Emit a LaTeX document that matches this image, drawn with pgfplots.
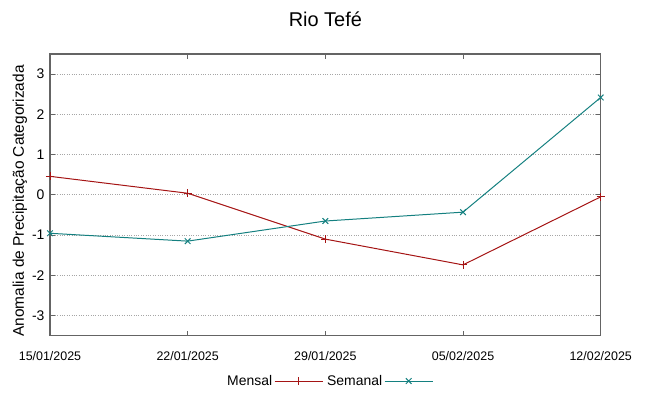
\documentclass[border=0pt]{standalone}
\usepackage{pgfplots}
\pgfplotsset{compat=1.18}
\usepackage{fontspec}
\setmainfont{Liberation Sans}
\definecolor{mred}{RGB}{165,20,20}
\definecolor{steal}{RGB}{20,128,128}
\definecolor{axgray}{RGB}{100,100,100}
\begin{document}
\begin{tikzpicture}[x=1bp,y=1bp]
\begin{axis}[
  at={(0,0)}, anchor=south west,
  scale only axis,
  width=550.7bp, height=281.7bp,
  xmin=0, xmax=4, ymin=-3.5, ymax=3.5,
  xtick={0,1,2,3,4},
  xticklabels={15/01/2025,22/01/2025,29/01/2025,05/02/2025,12/02/2025},
  ytick={-3,-2,-1,0,1,2,3},
  tick align=inside,
  major tick length=5bp,
  tick style={axgray, line width=1pt},
  axis line style={axgray, line width=1.4pt},
  ymajorgrids,
  grid style={gray!70, dotted, line width=0.8pt},
  /pgf/number format/assume math mode=true,
  yticklabel style={font=\fontsize{14}{16}\selectfont, xshift=-2bp},
  xticklabel style={font=\fontsize{12.5}{14}\selectfont, yshift=-12bp},
  title={Rio Tefé},
  title style={font=\fontsize{20}{22}\selectfont, yshift=18bp},
  ylabel={Anomalia de Precipitação Categorizada},
  ylabel style={font=\fontsize{15.5}{17}\selectfont, yshift=-2bp, xshift=-6bp},
  legend style={at={(0.507,-0.161)}, anchor=center, draw=none, legend columns=2,
    font=\fontsize{14}{16}\selectfont, /tikz/every even column/.append style={column sep=2bp}},
  legend plot pos=right,
  legend cell align=left,
  legend image code/.code={\path (0bp,0bp) -- (48bp,0bp); \draw[#1] (6bp,0bp) -- (24bp,0bp); \draw[#1, mark repeat=1, only marks] plot coordinates {(24bp,0bp)}; \draw[#1] (24bp,0bp) -- (43bp,0bp);},
]
\addplot[mred, line width=1pt, mark=+, mark size=4bp] coordinates {
 (0,0.46) (1,0.04) (2,-1.10) (3,-1.74) (4,-0.05)};
\addlegendentry{Mensal}
\addplot[steal, line width=1pt, mark=x, mark size=4bp] coordinates {
 (0,-0.955) (1,-1.15) (2,-0.65) (3,-0.43) (4,2.42)};
\addlegendentry{Semanal}
\end{axis}
\pgfresetboundingbox
\path[use as bounding box] (-50bp,-60.3bp) rectangle (599bp,335.7bp);
\end{tikzpicture}
\end{document}
